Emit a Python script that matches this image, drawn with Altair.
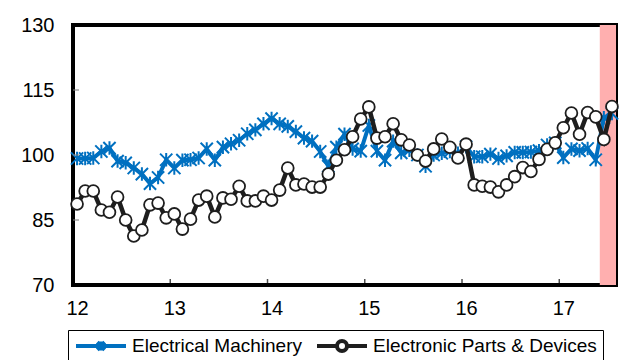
import altair as alt
import pandas as pd

FONT = "Liberation Sans"
BLUE = "#0070C0"
DARK = "#1E1E1E"
SHADE = "#FFAFAF"

# Monthly index values, January 2012 onward
start_year = 12
electrical_machinery = [
    99.2, 99.2, 99.3, 100.8, 101.6, 98.6, 98.2, 97.0, 95.6, 93.4,
    94.8, 98.9, 97.0, 98.8, 98.9, 99.3, 101.4, 98.8, 101.8, 102.6,
    103.4, 104.9, 105.8, 107.2, 108.4, 107.2, 106.6, 105.4, 103.9, 103.2,
    100.8, 97.4, 101.8, 104.8, 101.4, 100.9, 106.8, 100.9, 98.8, 103.2,
    100.5, 101.1, 100.0, 97.4, 100.0, 100.4, 100.8, 100.4, 101.9, 99.6,
    99.6, 100.2, 99.2, 99.8, 100.6, 100.6, 100.7, 101.0, 102.3, 102.8,
    99.4, 101.4, 101.0, 101.5, 98.9, 108.6, 109.6,
]
electronic_parts = [
    88.7, 91.7, 91.7, 87.3, 86.8, 90.3, 85.0, 81.3, 82.7, 88.5,
    88.9, 85.5, 86.4, 82.9, 85.2, 89.6, 90.5, 85.7, 90.1, 89.8,
    92.8, 89.4, 89.4, 90.5, 89.6, 91.9, 97.0, 93.1, 93.3, 92.6,
    92.6, 95.6, 98.8, 101.2, 104.2, 108.3, 111.1, 103.9, 104.2, 107.2,
    103.5, 102.3, 100.0, 98.6, 101.4, 103.7, 101.8, 99.3, 102.5, 93.1,
    92.8, 92.6, 91.5, 93.1, 95.0, 97.1, 96.2, 99.0, 101.3, 102.8,
    106.3, 109.7, 104.8, 109.8, 108.8, 103.6, 111.2,
]
series_names = ["Electrical Machinery", "Electronic Parts & Devices"]

y_ticks = [70, 85, 100, 115, 130]
y_inner_ticks = [85, 100, 115]
x_ticks = [12, 13, 14, 15, 16, 17]
x_inner_ticks = [13, 14, 15, 16, 17]
x_domain = [12, 17 + 7 / 12]
shade_span = [17 + 5 / 12, 17 + 7 / 12]

W, H = 543, 260

# each monthly point sits in the middle of its month
t = [start_year + (i + 0.5) / 12 for i in range(len(electrical_machinery))]
df_em = pd.DataFrame({"t": t, "v": electrical_machinery, "series": series_names[0]})
df_ep = pd.DataFrame({"t": t, "v": electronic_parts, "series": series_names[1]})
df_shade = pd.DataFrame({"t": [shade_span[0]], "t2": [shade_span[1]]})
df_yt = pd.DataFrame({"v": y_inner_ticks})
df_xt = pd.DataFrame({"t": x_inner_ticks})

x_scale = alt.Scale(domain=x_domain, nice=False, zero=False)
y_scale = alt.Scale(domain=[70, 130], nice=False, zero=False)

x_axis = alt.Axis(values=x_ticks, format="d", title=None, domain=False, ticks=False,
                  grid=False, labelFont=FONT, labelFontSize=20, labelColor="black",
                  labelPadding=13, labelOffset=4, labelFlush=False, labelOverlap=False)
y_axis = alt.Axis(values=y_ticks, title=None, domain=False, ticks=False, grid=False,
                  labelFont=FONT, labelFontSize=20, labelColor="black",
                  labelPadding=19, labelFlush=False, labelOverlap=False)

X = alt.X("t:Q", scale=x_scale, axis=x_axis)
Y = alt.Y("v:Q", scale=y_scale, axis=y_axis)

# legend symbols: line sample with the series marker in the middle
LEG_STAR = "M-1,0L1,0M-0.15,-0.15L0.15,0.15M-0.15,0.15L0.15,-0.15M0,-0.18L0,0.18"
LEG_CIRCLE = ("M-1,0L-0.2,0M0.2,0L1,0M0.2,0A0.2,0.2 0 1,1 -0.2,0"
              "A0.2,0.2 0 1,1 0.2,0")
legend = alt.Legend(
    title=None, orient="none", legendX=-5, legendY=305, direction="horizontal",
    columns=2, labelFont=FONT, labelFontSize=19, labelColor="black", labelLimit=400,
    labelOffset=4, symbolSize=2500, symbolStrokeWidth=4, clipHeight=20, padding=6,
    strokeColor="black", columnPadding=13,
    symbolType={"expr": f"datum.value == '{series_names[0]}' ? '{LEG_STAR}' : '{LEG_CIRCLE}'"},
)
color = alt.Color("series:N", scale=alt.Scale(domain=series_names, range=[BLUE, DARK]),
                  legend=legend)

STAR = "M-1,-1L1,1M-1,1L1,-1M0,-1.1L0,1.1"

shade = alt.Chart(df_shade).mark_rect(color=SHADE).encode(x=X, x2="t2:Q")

em_line = alt.Chart(df_em).mark_line(strokeWidth=4).encode(x=X, y=Y, color=color)
em_pts = alt.Chart(df_em).mark_point(shape=STAR, size=150, filled=False, stroke=BLUE,
                                     strokeWidth=2, opacity=1).encode(x=X, y=Y)
ep_line = alt.Chart(df_ep).mark_line(strokeWidth=4.5).encode(x=X, y=Y, color=color)
ep_pts = alt.Chart(df_ep).mark_point(shape="circle", size=140, filled=True, fill="white",
                                     stroke=DARK, strokeWidth=1.8, opacity=1).encode(x=X, y=Y)

y_tick_marks = alt.Chart(df_yt).mark_tick(orient="horizontal", size=6, thickness=1.5,
                                          color="#808080").encode(y=Y, x=alt.value(3))
x_tick_marks = alt.Chart(df_xt).mark_tick(orient="vertical", size=6, thickness=1.5,
                                          color="black").encode(x=X, y=alt.value(H - 3))

chart = (
    alt.layer(shade, em_line, em_pts, ep_line, ep_pts, y_tick_marks, x_tick_marks)
    .properties(width=W, height=H, autosize=alt.AutoSizeParams(type="none"),
                padding={"left": 73, "top": 25, "right": 3, "bottom": 75},
                view=alt.ViewBackground(stroke="black", strokeWidth=4))
)

chart.save("out.html", embed_options={"renderer": "svg", "actions": False})
